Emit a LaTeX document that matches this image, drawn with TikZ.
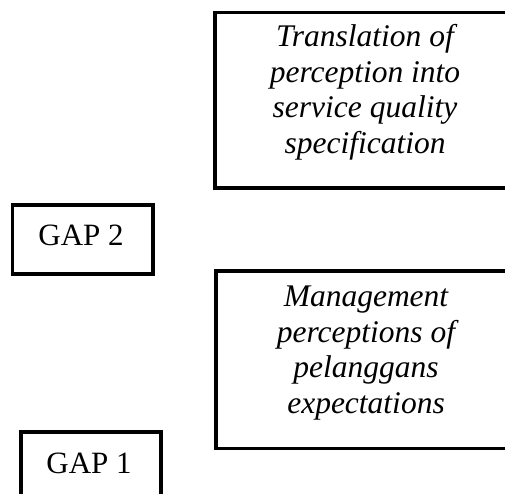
\documentclass[tikz,border=0pt]{standalone}
\usepackage{fontspec}
\setmainfont{Liberation Serif}
\begin{document}
\begin{tikzpicture}[x=1pt,y=-1pt,
  box/.style={draw,line width=3.2pt},
  itl/.style={anchor=base,inner sep=0pt,font=\fontsize{31.5}{36}\selectfont\itshape},
  gap/.style={anchor=base,inner sep=0pt,font=\fontsize{31}{36}\selectfont}]
\useasboundingbox (0,0) rectangle (505,493);
\clip (0,0) rectangle (505,493);
% boxes
\draw[box] (215,12.5) rectangle (530,188);
\draw[box] (216,271) rectangle (530,448.5);
\draw[box] (12.5,205) rectangle (153,274);
\draw[box] (21,432) rectangle (161,520);
% top box text
\node[itl] (a1) at (365,46.5) {Translation of};
\node[itl] (a2) at (365,82) {perception into};
\node[itl] (a3) at (365,117.5) {service quality};
\node[itl] (a4) at (365,153) {specification};
% lower box text
\node[itl] (b1) at (366,306) {Management};
\node[itl] (b2) at (366,342) {perceptions of};
\node[itl] (b3) at (366,377.5) {pelanggans};
\node[itl] (b4) at (366,413) {expectations};
% gap labels
\node[gap] (g2) at (81,245) {GAP 2};
\node[gap] (g1) at (89,473) {GAP 1};
\end{tikzpicture}
\end{document}
